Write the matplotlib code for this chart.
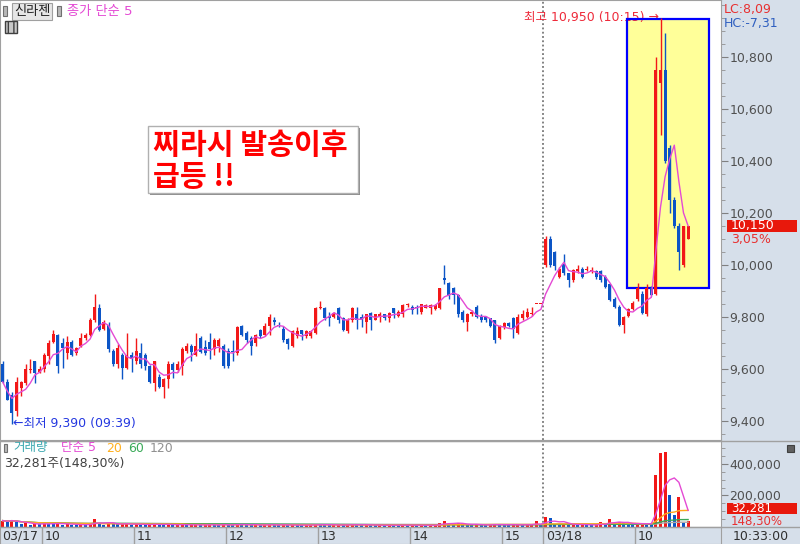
import matplotlib
matplotlib.use("Agg")
import matplotlib.pyplot as plt
import numpy as np
import pandas as pd
from matplotlib.patches import Rectangle
from matplotlib.lines import Line2D
from matplotlib.ticker import FuncFormatter, MultipleLocator

plt.rcParams['font.family'] = ['DejaVu Sans', 'Noto Sans CJK KR']

# 신라젠 3분봉, 03/17 (09:33 ~ 장마감)
open_17 = [9620, 9550, 9500, 9440, 9525, 9545, 9595, 9630, 9590, 9600,
           9650, 9705, 9730, 9700, 9660, 9705, 9660, 9690, 9720, 9730,
           9790, 9835, 9755, 9770, 9670, 9620, 9655, 9605, 9655, 9630,
           9660, 9655, 9610, 9545, 9570, 9530, 9560, 9620, 9595, 9610,
           9670, 9690, 9655, 9720, 9685, 9705, 9675, 9690, 9690, 9670,
           9670, 9660, 9765, 9740, 9720, 9700, 9750, 9730, 9765, 9790,
           9770, 9755, 9715, 9690, 9725, 9750, 9725, 9725, 9740, 9835,
           9835, 9805, 9800, 9835, 9795, 9745, 9790, 9810, 9800, 9780,
           9815, 9790, 9800, 9810, 9795, 9835, 9805, 9810, 9845, 9840,
           9840, 9820, 9835, 9835, 9830, 9835, 9950, 9930, 9910, 9885,
           9820, 9780, 9810, 9840, 9805, 9800, 9795, 9790, 9720, 9760,
           9775, 9795, 9740, 9795, 9800, 9810, 9850, 9850]
high_17 = [9630, 9560, 9510, 9570, 9555, 9620, 9640, 9630, 9610, 9660,
           9710, 9750, 9735, 9720, 9725, 9710, 9685, 9740, 9740, 9795,
           9890, 9850, 9790, 9780, 9675, 9695, 9660, 9740, 9665, 9720,
           9700, 9660, 9615, 9630, 9580, 9565, 9630, 9625, 9630, 9685,
           9700, 9695, 9740, 9725, 9710, 9740, 9720, 9720, 9695, 9680,
           9710, 9765, 9770, 9745, 9725, 9735, 9755, 9775, 9810, 9800,
           9780, 9765, 9720, 9750, 9760, 9750, 9750, 9750, 9840, 9860,
           9840, 9820, 9820, 9840, 9800, 9795, 9840, 9840, 9810, 9810,
           9820, 9810, 9820, 9810, 9820, 9835, 9825, 9850, 9855, 9845,
           9845, 9850, 9850, 9850, 9850, 9910, 10000, 9935, 9915, 9890,
           9825, 9815, 9825, 9845, 9810, 9805, 9795, 9790, 9770, 9780,
           9780, 9800, 9810, 9825, 9835, 9840, 9850, 9850]
low_17 = [9545, 9480, 9390, 9420, 9495, 9540, 9585, 9545, 9585, 9590,
          9620, 9700, 9585, 9605, 9640, 9650, 9655, 9685, 9710, 9725,
          9780, 9745, 9750, 9665, 9610, 9605, 9560, 9600, 9590, 9620,
          9605, 9595, 9545, 9515, 9525, 9490, 9525, 9565, 9590, 9575,
          9660, 9630, 9650, 9660, 9655, 9640, 9655, 9665, 9605, 9605,
          9630, 9655, 9725, 9700, 9655, 9690, 9720, 9725, 9730, 9770,
          9760, 9705, 9675, 9685, 9720, 9710, 9720, 9720, 9735, 9830,
          9790, 9765, 9795, 9775, 9745, 9740, 9780, 9755, 9760, 9740,
          9750, 9790, 9780, 9790, 9780, 9795, 9800, 9800, 9840, 9810,
          9810, 9810, 9835, 9810, 9825, 9830, 9925, 9870, 9850, 9800,
          9780, 9745, 9805, 9795, 9780, 9780, 9760, 9700, 9715, 9755,
          9760, 9720, 9735, 9790, 9795, 9805, 9850, 9850]
close_17 = [9550, 9480, 9430, 9550, 9550, 9600, 9600, 9585, 9600, 9655,
            9700, 9735, 9610, 9680, 9705, 9655, 9680, 9720, 9730, 9790,
            9840, 9750, 9780, 9675, 9620, 9680, 9605, 9655, 9640, 9670,
            9620, 9610, 9550, 9630, 9530, 9560, 9620, 9595, 9620, 9675,
            9690, 9665, 9690, 9665, 9660, 9675, 9710, 9710, 9610, 9610,
            9665, 9760, 9730, 9710, 9690, 9730, 9725, 9765, 9800, 9780,
            9765, 9710, 9695, 9745, 9745, 9735, 9745, 9745, 9835, 9840,
            9795, 9795, 9815, 9790, 9750, 9790, 9835, 9790, 9790, 9810,
            9790, 9810, 9810, 9795, 9815, 9815, 9820, 9845, 9850, 9825,
            9835, 9850, 9845, 9845, 9845, 9910, 9940, 9880, 9885, 9810,
            9790, 9810, 9820, 9800, 9790, 9790, 9765, 9710, 9765, 9775,
            9765, 9755, 9800, 9810, 9820, 9815, 9850, 9850]
vol_17 = [38000, 30000, 45000, 26000, 15000, 20000, 12000, 18000, 14000, 22000,
          19000, 16000, 24000, 12000, 15000, 11000, 9000, 14000, 10000, 18000,
          47000, 25000, 12000, 20000, 16000, 14000, 18000, 22000, 9000, 15000,
          12000, 10000, 16000, 18000, 12000, 10000, 14000, 9000, 11000, 15000,
          8000, 10000, 12000, 9000, 11000, 13000, 10000, 8000, 14000, 12000,
          7000, 19000, 12000, 10000, 9000, 11000, 8000, 12000, 16000, 9000,
          7000, 10000, 9000, 12000, 8000, 7000, 9000, 10000, 18000, 12000,
          10000, 8000, 9000, 11000, 10000, 12000, 14000, 10000, 9000, 11000,
          8000, 7000, 9000, 8000, 10000, 9000, 8000, 12000, 7000, 9000,
          8000, 10000, 7000, 8000, 9000, 22000, 35000, 18000, 14000, 20000,
          15000, 12000, 9000, 14000, 10000, 8000, 11000, 18000, 12000, 9000,
          8000, 12000, 15000, 9000, 10000, 12000, 34000, 8000]

# 03/18 (09:00 ~ 10:33)
open_18 = [10000, 10100, 10050, 9955, 10005, 9970, 9940, 9975, 9985, 9980,
           9975, 9975, 9975, 9955, 9925, 9870, 9840, 9770, 9805, 9830,
           9870, 9890, 9810, 9910, 9890, 10700, 10750, 10450, 10250, 10150,
           10000, 10100]
high_18 = [10110, 10110, 10055, 9990, 10040, 9970, 9985, 10000, 9990, 9995,
           9990, 9980, 9980, 9960, 9925, 9875, 9845, 9805, 9835, 9860,
           9930, 9900, 9925, 9920, 10800, 10950, 10890, 10460, 10260, 10160,
           10150, 10150]
low_18 = [9990, 9990, 9980, 9950, 9960, 9915, 9935, 9970, 9950, 9975,
          9970, 9945, 9935, 9910, 9860, 9835, 9765, 9740, 9800, 9825,
          9860, 9810, 9805, 9880, 9885, 10500, 10390, 10200, 10140, 9980,
          9990, 10100]
close_18 = [10100, 10000, 9995, 9985, 9970, 9940, 9980, 9985, 9955, 9985,
            9980, 9955, 9940, 9915, 9865, 9840, 9770, 9800, 9830, 9855,
            9910, 9815, 9910, 9885, 10750, 10750, 10400, 10250, 10150, 10050,
            10150, 10150]
vol_18 = [59000, 53000, 18000, 12000, 15000, 14000, 16000, 10000, 12000, 9000,
          8000, 11000, 31000, 14000, 46000, 22000, 31000, 20000, 15000, 12000,
          18000, 24000, 20000, 17000, 329000, 471000, 479000, 200000, 77000, 189000,
          21000, 32281]

times = (list(pd.date_range('2020-03-17 09:33', periods=len(open_17), freq='3min'))
         + list(pd.date_range('2020-03-18 09:00', periods=len(open_18), freq='3min')))

o = np.array(open_17 + open_18, dtype=float)
h = np.array(high_17 + high_18, dtype=float)
l = np.array(low_17 + low_18, dtype=float)
c = np.array(close_17 + close_18, dtype=float)
v = np.array(vol_17 + vol_18, dtype=float)
x = np.arange(len(c))
n17 = len(open_17)

RED = '#F21818'
BLUE = '#0C55C6'
MAG = '#E44AD4'
PANEL = '#D6DFEA'
LINE = '#A0A0A0'
TXT = '#505050'

W, H = 800, 544
def fx(px):
    return px / W
def fy(py):
    return 1 - py / H

fig = plt.figure(figsize=(8, 5.44), dpi=100, facecolor=PANEL)
right = 721
xlim = (-2.7 / 4.6, (right - 2.7) / 4.6)

# ---- 가격 차트
ax = fig.add_axes([0, fy(440), fx(right), 440 / H])
ax.set_facecolor('white')
ax.set_xlim(*xlim)
ax.set_ylim(9327, 11018)

up = c >= o
cols = np.where(up, RED, BLUE)
ax.vlines(x, l, h, colors=cols, lw=1, zorder=3)
ax.bar(x, np.maximum(np.abs(c - o), 5), bottom=np.minimum(o, c), width=0.64,
       color=cols, linewidth=0, zorder=4)
ma5 = pd.Series(c).rolling(5, min_periods=1).mean()
ax.plot(x, ma5, color=MAG, lw=1, zorder=5)

# 급등 구간 박스
ax.add_patch(Rectangle((135.7, 9912), 17.8, 1033, facecolor='#FFFF99', edgecolor='none', zorder=1))
ax.add_patch(Rectangle((135.7, 9912), 17.8, 1033, facecolor='none', edgecolor='#0000FF', lw=1.6, zorder=2.5))

day_split = n17 - 0.5
ax.axvline(day_split, color='#606060', ls=(0, (1.2, 1.6)), lw=1.1, zorder=2)

i_hi = int(np.argmax(h))
i_lo = int(np.argmin(l))
ax.text(i_hi - 0.4, h[i_hi], f"최고 {int(h[i_hi]):,} ({times[i_hi]:%H:%M}) →",
        color='#EE2A3A', fontsize=9, ha='right', va='center', zorder=2)
ax.text(i_lo + 0.2, l[i_lo], f"←최저 {int(l[i_lo]):,} ({times[i_lo]:%H:%M})",
        color='#2438E0', fontsize=9, ha='left', va='center', zorder=6)

ax.yaxis.tick_right()
ax.set_yticks([9400, 9600, 9800, 10000, 10200, 10400, 10600, 10800])
ax.yaxis.set_minor_locator(MultipleLocator(50))
ax.yaxis.set_major_formatter(FuncFormatter(lambda val, pos: f"{int(val):,}"))
ax.tick_params(axis='y', which='major', length=5, color='#808080', labelcolor=TXT,
               labelsize=9, pad=1, direction='out')
ax.tick_params(axis='y', which='minor', length=3, color='#909090', direction='out')
ax.tick_params(axis='x', bottom=False, labelbottom=False)
for s in ax.spines.values():
    s.set_color(LINE)

# ---- 거래량
axv = fig.add_axes([0, fy(527), fx(right), 86 / H])
axv.set_facecolor('white')
axv.set_xlim(*xlim)
axv.set_ylim(-3000, 548000)
vup = np.r_[True, v[1:] >= v[:-1]]
axv.bar(x, v, width=0.64, color=np.where(vup, RED, BLUE), linewidth=0, zorder=3)
vs = pd.Series(v)
for win, col in [(120, '#A8A8A8'), (60, '#3AA856'), (20, '#FFA81E'), (5, MAG)]:
    axv.plot(x, vs.rolling(win, min_periods=1).mean(), color=col, lw=1, zorder=4)
axv.axvline(day_split, color='#606060', ls=(0, (1.2, 1.6)), lw=1.1, zorder=2)
axv.yaxis.tick_right()
axv.set_yticks([200000, 400000])
axv.yaxis.set_minor_locator(MultipleLocator(50000))
axv.yaxis.set_major_formatter(FuncFormatter(lambda val, pos: f"{int(val):,}"))
axv.tick_params(axis='y', which='major', length=5, color='#808080', labelcolor=TXT,
                labelsize=9, pad=1, direction='out')
axv.tick_params(axis='y', which='minor', length=3, color='#909090', direction='out')
axv.tick_params(axis='x', bottom=False, labelbottom=False)
for s in axv.spines.values():
    s.set_color(LINE)

# ---- 시간축
axt = fig.add_axes([0, 0, fx(right), 17 / H])
axt.set_facecolor(PANEL)
axt.set_xlim(*xlim)
axt.set_ylim(0, 1)
axt.set_xticks([])
axt.set_yticks([])
for s in axt.spines.values():
    s.set_color(LINE)
axt.text(xlim[0] + 0.4, 0.45, f"{times[0]:%m/%d}", fontsize=9, color='#303030', va='center')
for i, t in enumerate(times):
    if i == n17:
        lab = f"{t:%m/%d}"
    elif t.minute == 0:
        lab = f"{t:%H}"
    else:
        continue
    axt.axvline(i - 0.5, color=LINE, lw=1)
    axt.text(i - 0.5 + 0.6, 0.45, lab, fontsize=9, color='#303030', va='center')
fig.text(fx(733), fy(536), f"{times[-1]:%H:%M:%S}", fontsize=9, color='#303030', va='center')

# 패널 구분선
for py in (440.5, 527):
    fig.add_artist(Line2D([0, 1], [fy(py), fy(py)], color=LINE, lw=1))

# ---- 상단 헤더
fig.add_artist(Rectangle((fx(3), fy(16)), fx(4), 10 / H, facecolor='#B8B8B8', edgecolor='#707070', lw=0.8))
fig.add_artist(Rectangle((fx(12), fy(20)), fx(40), 17 / H, facecolor='#E6E6E6', edgecolor='#A0A0A0', lw=0.8))
fig.text(fx(32), fy(11.5), "신라젠", fontsize=9.5, color='#202020', va='center', ha='center')
fig.add_artist(Rectangle((fx(57), fy(16)), fx(4), 10 / H, facecolor='#B8B8B8', edgecolor='#707070', lw=0.8))
fig.text(fx(67), fy(11.5), "종가 단순 5", fontsize=9.5, color=MAG, va='center')
fig.add_artist(Rectangle((fx(5), fy(33)), fx(12), 12 / H, facecolor='#C8C8C8', edgecolor='#404040',
                         lw=1, hatch='|||'))

last = c[-1]
fig.text(fx(724), fy(9), f"LC:{(last / l.min() - 1) * 100:.2f}".replace('.', ','),
         fontsize=9, color='#E83030', va='center')
fig.text(fx(724), fy(23), f"HC:{(last / h.max() - 1) * 100:.2f}".replace('.', ','),
         fontsize=9, color='#3060C0', va='center')

# 현재가 표시
py_last = H - ax.transData.transform((0, last))[1]
fig.add_artist(Rectangle((fx(727), fy(py_last + 6)), fx(70), 12 / H, facecolor='#E8180C', edgecolor='none'))
fig.text(fx(731), fy(py_last), f"{int(last):,}", fontsize=9, color='white', va='center')
pct = (last / close_17[-1] - 1) * 100
fig.text(fx(731), fy(py_last + 14), f"{pct:.2f}%".replace('.', ','), fontsize=9, color='#E83030', va='center')

# 메모 박스
fig.add_artist(Rectangle((fx(150), fy(195)), fx(210), 67 / H, facecolor='#8C8C8C', edgecolor='none'))
fig.add_artist(Rectangle((fx(148), fy(193)), fx(210), 67 / H, facecolor='white', edgecolor='#B0B0B0', lw=1))
fig.text(fx(153), fy(145), "찌라시 발송이후", fontsize=21, fontweight='bold', color='#FF0000',
         va='center', family=['Noto Sans CJK KR'])
fig.text(fx(153), fy(177), "급등 !!", fontsize=21, fontweight='bold', color='#FF0000',
         va='center', family=['Noto Sans CJK KR'])

# 거래량 헤더
fig.add_artist(Rectangle((fx(4), fy(452)), fx(3), 8 / H, facecolor='#B8B8B8', edgecolor='#707070', lw=0.8))
for px, s, col in [(13, "거래량", '#3AA8B0'), (61, "단순 5", MAG), (106, "20", '#FFB020'),
                   (128, "60", '#3AAA58'), (150, "120", '#909090')]:
    fig.text(fx(px), fy(448), s, fontsize=9, color=col, va='center')
fig.text(fx(4), fy(464), f"{int(v[-1]):,}주(148,30%)", fontsize=9, color='#404040', va='center')
fig.add_artist(Rectangle((fx(787), fy(452)), fx(7), 7 / H, facecolor='#606060', edgecolor='#404040', lw=0.8))

fig.add_artist(Rectangle((fx(727), fy(514)), fx(70), 11 / H, facecolor='#E8180C', edgecolor='none'))
fig.text(fx(731), fy(508.5), f"{int(v[-1]):,}", fontsize=8.5, color='white', va='center')
fig.text(fx(731), fy(521), "148,30%", fontsize=8.5, color='#E83030', va='center')

fig.savefig('out.png', dpi=100, facecolor=PANEL)
